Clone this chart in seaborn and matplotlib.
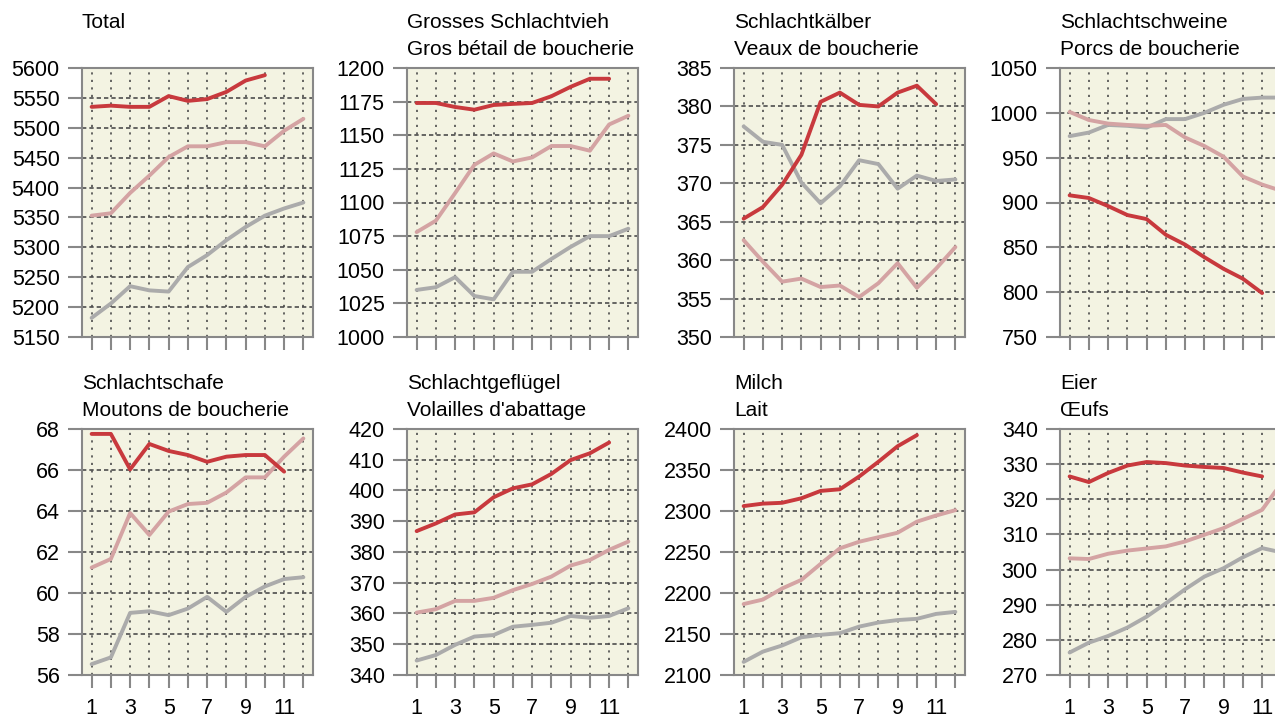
import matplotlib
matplotlib.use("Agg")
import matplotlib.pyplot as plt
import pandas as pd
import seaborn as sns

# ---------------------------------------------------------------------
# Data, months 1..12
# ---------------------------------------------------------------------
months = list(range(1, 13))
series_order = ["grey", "pink", "red"]

total_grey = [5182, 5206, 5235, 5228, 5226, 5267, 5287, 5312, 5334, 5353, 5365, 5375]
total_pink = [5353, 5357, 5391, 5420, 5451, 5469, 5469, 5476, 5476, 5469, 5495, 5515]
total_red = [5535, 5537, 5535, 5535, 5553, 5545, 5548, 5560, 5579, 5588]

gross_grey = [1035, 1037, 1044.5, 1030.5, 1028, 1048.5, 1048.5, 1058, 1067, 1075, 1075, 1080.5]
gross_pink = [1078, 1086.5, 1107, 1128, 1136.5, 1130.5, 1133.5, 1142, 1142, 1138.5, 1158, 1164.5]
gross_red = [1174, 1174, 1171, 1169, 1172.5, 1173.3, 1174, 1179, 1186, 1192, 1192]

kalb_grey = [377.4, 375.4, 375.0, 370.1, 367.4, 369.6, 373.0, 372.5, 369.3, 371.0, 370.3, 370.5]
kalb_pink = [362.6, 359.8, 357.2, 357.6, 356.5, 356.7, 355.2, 357.0, 359.6, 356.4, 358.9, 361.7]
kalb_red = [365.4, 366.9, 369.8, 373.7, 380.6, 381.8, 380.2, 380.0, 381.8, 382.7, 380.3]

schwein_grey = [974, 978, 986.5, 985.5, 983.5, 993, 993, 1000, 1009, 1015.5, 1017, 1017]
schwein_pink = [1001, 992, 988, 986.5, 985.5, 986.5, 972.5, 963, 951, 929, 920, 913]
schwein_red = [908, 905, 896, 886, 881.5, 864, 853, 839, 826, 815, 799]

schaf_grey = [56.53, 56.86, 59.03, 59.11, 58.92, 59.24, 59.81, 59.08, 59.81, 60.32, 60.68, 60.77]
schaf_pink = [61.24, 61.66, 63.90, 62.83, 63.97, 64.34, 64.40, 64.90, 65.64, 65.64, 66.65, 67.54]
schaf_red = [67.76, 67.76, 66.03, 67.27, 66.93, 66.73, 66.40, 66.65, 66.73, 66.73, 65.92]

gefluegel_grey = [344.7, 346.5, 349.8, 352.5, 353.0, 355.7, 356.3, 357.0, 359.2, 358.6, 359.2, 361.7]
gefluegel_pink = [360.3, 361.4, 364.1, 364.1, 365.1, 367.6, 369.6, 372.0, 375.6, 377.4, 380.7, 383.4]
gefluegel_red = [386.8, 389.3, 392.2, 392.9, 397.8, 400.7, 402.0, 405.4, 409.9, 412.1, 415.6]

milch_grey = [2116, 2128.5, 2136, 2146, 2149, 2151, 2159, 2164, 2167, 2168.5, 2174.5, 2177]
milch_pink = [2186.5, 2192, 2205.5, 2216, 2235.5, 2254.5, 2262.5, 2268, 2273.5, 2287, 2294.5, 2301]
milch_red = [2306, 2309, 2310, 2315.5, 2324.5, 2326.5, 2342, 2360, 2379, 2392.5]

eier_grey = [276.4, 279.2, 281.1, 283.5, 286.6, 290.4, 294.4, 298.0, 300.4, 303.5, 306.1, 304.9]
eier_pink = [303.2, 303.0, 304.5, 305.4, 306.0, 306.6, 308.0, 309.9, 311.8, 314.4, 317.0, 324.6]
eier_red = [326.5, 324.9, 327.5, 329.6, 330.6, 330.3, 329.6, 329.2, 328.9, 327.6, 326.5]

titles = [
    ("Total", ""),
    ("Grosses Schlachtvieh", "Gros bétail de boucherie"),
    ("Schlachtkälber", "Veaux de boucherie"),
    ("Schlachtschweine", "Porcs de boucherie"),
    ("Schlachtschafe", "Moutons de boucherie"),
    ("Schlachtgeflügel", "Volailles d'abattage"),
    ("Milch", "Lait"),
    ("Eier", "Œufs"),
]
panel_series = [
    (total_grey, total_pink, total_red),
    (gross_grey, gross_pink, gross_red),
    (kalb_grey, kalb_pink, kalb_red),
    (schwein_grey, schwein_pink, schwein_red),
    (schaf_grey, schaf_pink, schaf_red),
    (gefluegel_grey, gefluegel_pink, gefluegel_red),
    (milch_grey, milch_pink, milch_red),
    (eier_grey, eier_pink, eier_red),
]
y_ranges = [
    (5150, 5600, 50), (1000, 1200, 25), (350, 385, 5), (750, 1050, 50),
    (56, 68, 2), (340, 420, 10), (2100, 2400, 50), (270, 340, 10),
]

palette = {"grey": "#ababab", "pink": "#d4a3a3", "red": "#c8393d"}

# ---------------------------------------------------------------------
# Figure
# ---------------------------------------------------------------------
sns.set_style("ticks")
plt.rcParams["font.family"] = ["Liberation Sans", "DejaVu Sans"]

W, H = 1275, 714
fig = plt.figure(figsize=(W / 100, H / 100), dpi=100)

col_left = [82, 407, 734, 1060]
ax_w = 231
rows = [(68, 337), (429, 675)]  # top, bottom in pixels

for i, (series, (t1, t2), (ylo, yhi, ystep)) in enumerate(zip(panel_series, titles, y_ranges)):
    r, c = divmod(i, 4)
    top, bottom = rows[r]
    ax = fig.add_axes([col_left[c] / W, 1 - bottom / H, ax_w / W, (bottom - top) / H])

    frames = []
    for name, vals in zip(series_order, series):
        frames.append(pd.DataFrame({"month": months[:len(vals)], "value": vals, "series": name}))
    df = pd.concat(frames, ignore_index=True)

    sns.lineplot(data=df, x="month", y="value", hue="series", hue_order=series_order,
                 palette=palette, linewidth=2.8, legend=False, ax=ax)

    ax.set_facecolor("#f3f3e2")
    ax.set_xlim(0.5, 12.5)
    ax.set_ylim(ylo, yhi)
    ax.set_yticks(list(range(ylo, yhi + 1, ystep)))
    ax.set_xticks(months)
    if r == 1:
        ax.set_xticklabels([str(m) if m % 2 == 1 else "" for m in months])
    else:
        ax.set_xticklabels([])
    ax.set_xlabel("")
    ax.set_ylabel("")

    ax.set_axisbelow(True)
    ax.xaxis.grid(True, color="#4d4d4d", linewidth=1.2, linestyle=(0, (1.3, 3.2)))
    ax.yaxis.grid(True, color="#4d4d4d", linewidth=1.2, linestyle=(0, (2.6, 1.8)))

    for sp in ax.spines.values():
        sp.set_visible(True)
        sp.set_color("#888888")
        sp.set_linewidth(1.5)

    ax.tick_params(axis="y", length=10, width=1.5, color="#888888", pad=6,
                   labelsize=15.5, labelcolor="black")
    ax.tick_params(axis="x", length=9.5, width=1.5, color="#888888", pad=7,
                   labelsize=15.5, labelcolor="black")

    ax.annotate(t2, xy=(0, 1), xycoords="axes fraction", xytext=(0, 9.5),
                textcoords="offset points", ha="left", va="baseline",
                fontsize=15, color="black")
    ax.annotate(t1, xy=(0, 1), xycoords="axes fraction", xytext=(0, 29),
                textcoords="offset points", ha="left", va="baseline",
                fontsize=15, color="black")

fig.savefig("out.png", dpi=100)
